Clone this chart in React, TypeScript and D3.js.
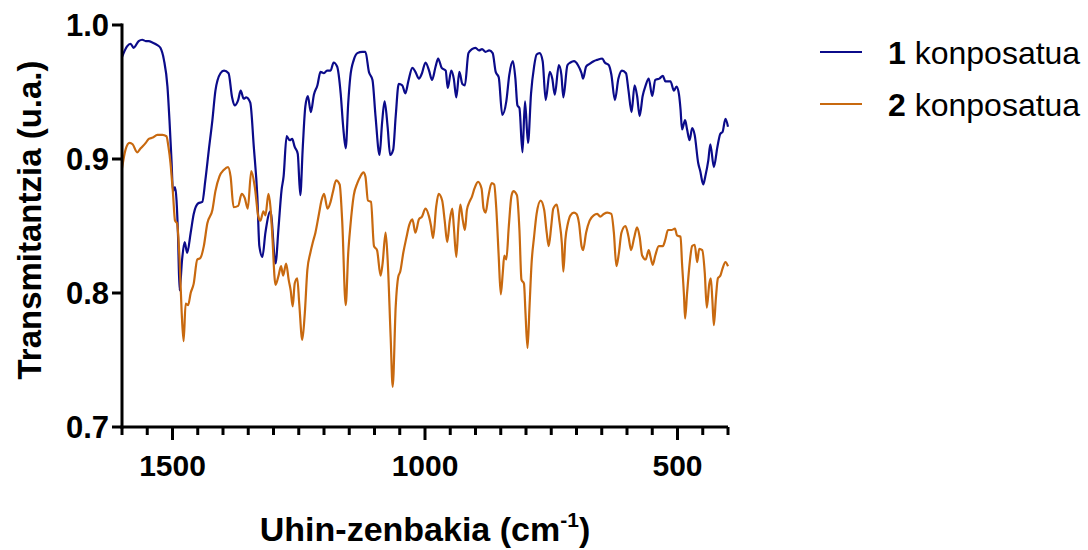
import React from "react";
import * as d3 from "d3";

const wavenumbers1 = [1600,1590,1583,1577,1567,1560,1553,1547,1540,1530,1524,1517,1510,1506,1502,1499,1495,1492,1489,1486,1481,1476,1471,1464,1458,1449,1441,1435,1428,1421,1415,1405,1398,1389,1382,1377,1370,1365,1359,1354,1346,1339,1332,1328,1322,1316,1306,1296,1290,1284,1280,1274,1268,1263,1258,1252,1247,1242,1237,1232,1226,1220,1213,1207,1200,1194,1187,1181,1174,1167,1162,1157,1152,1148,1141,1134,1124,1118,1111,1104,1098,1090,1085,1080,1074,1069,1063,1058,1052,1045,1039,1033,1025,1019,1012,1006,999,992,986,979,974,967,959,955,948,943,938,932,926,921,914,907,900,893,887,880,873,866,860,854,847,839,833,826,821,817,813,807,802,796,790,784,779,773,767,761,753,748,743,735,730,726,718,712,705,697,690,687,681,674,666,659,649,644,636,631,624,617,610,602,597,591,585,580,575,569,563,557,550,544,536,529,524,514,507,502,497,494,491,485,481,476,471,466,459,455,449,445,439,435,428,421,415,411,405,400];
const transmittance1 = [0.976,0.984,0.986,0.983,0.988,0.989,0.988,0.988,0.987,0.985,0.983,0.974,0.954,0.929,0.899,0.876,0.879,0.869,0.842,0.802,0.825,0.838,0.830,0.845,0.859,0.867,0.868,0.884,0.907,0.929,0.951,0.964,0.966,0.964,0.946,0.940,0.944,0.951,0.945,0.946,0.942,0.909,0.872,0.835,0.827,0.845,0.861,0.822,0.849,0.877,0.887,0.917,0.914,0.915,0.909,0.904,0.873,0.909,0.939,0.947,0.935,0.948,0.955,0.965,0.964,0.966,0.966,0.972,0.969,0.949,0.924,0.908,0.942,0.961,0.974,0.979,0.980,0.980,0.965,0.959,0.932,0.903,0.927,0.943,0.924,0.903,0.907,0.932,0.956,0.955,0.949,0.958,0.968,0.965,0.960,0.964,0.972,0.966,0.959,0.969,0.975,0.968,0.966,0.953,0.966,0.960,0.946,0.965,0.956,0.955,0.979,0.982,0.983,0.981,0.982,0.980,0.981,0.979,0.965,0.961,0.933,0.943,0.963,0.973,0.960,0.940,0.938,0.905,0.943,0.912,0.949,0.969,0.978,0.979,0.973,0.944,0.965,0.960,0.948,0.970,0.963,0.946,0.970,0.972,0.973,0.970,0.964,0.960,0.969,0.971,0.973,0.974,0.975,0.972,0.970,0.963,0.944,0.960,0.966,0.964,0.951,0.935,0.955,0.947,0.932,0.947,0.955,0.960,0.947,0.959,0.960,0.962,0.958,0.958,0.951,0.954,0.948,0.937,0.922,0.929,0.922,0.914,0.923,0.918,0.897,0.891,0.881,0.887,0.899,0.911,0.894,0.909,0.919,0.920,0.930,0.924];

const wavenumbers2 = [1600,1593,1585,1579,1570,1563,1553,1547,1539,1530,1520,1512,1508,1504,1499,1495,1491,1486,1482,1478,1474,1469,1464,1458,1451,1445,1438,1431,1421,1415,1407,1398,1390,1385,1379,1370,1363,1357,1351,1344,1337,1330,1326,1320,1316,1310,1306,1303,1296,1290,1285,1281,1275,1270,1266,1262,1258,1253,1249,1243,1238,1233,1227,1222,1217,1210,1205,1200,1193,1187,1182,1176,1169,1164,1157,1152,1148,1141,1134,1128,1122,1118,1113,1107,1101,1095,1088,1084,1078,1074,1068,1064,1058,1053,1049,1043,1037,1031,1025,1019,1012,1006,999,992,988,984,978,973,966,961,956,951,946,943,938,934,930,925,921,917,912,907,902,895,888,884,880,875,868,863,859,854,850,846,843,839,834,829,825,818,813,809,804,801,797,793,789,784,779,771,764,759,755,750,746,739,734,729,726,722,717,712,705,700,695,690,687,681,674,666,659,653,646,639,631,626,621,616,611,603,597,592,586,580,575,570,563,557,554,549,544,537,529,524,519,512,505,501,494,491,487,485,481,476,471,466,461,457,451,446,442,437,434,431,428,424,420,415,411,405,400];
const transmittance2 = [0.893,0.907,0.912,0.911,0.905,0.908,0.912,0.915,0.916,0.918,0.918,0.917,0.909,0.897,0.874,0.854,0.852,0.825,0.787,0.764,0.792,0.791,0.800,0.807,0.825,0.826,0.835,0.852,0.862,0.876,0.887,0.892,0.894,0.887,0.864,0.865,0.874,0.871,0.863,0.891,0.879,0.857,0.854,0.861,0.858,0.874,0.864,0.847,0.806,0.813,0.820,0.813,0.822,0.810,0.802,0.790,0.807,0.811,0.792,0.765,0.785,0.817,0.830,0.838,0.845,0.859,0.869,0.874,0.863,0.868,0.876,0.884,0.881,0.854,0.791,0.830,0.849,0.873,0.882,0.887,0.890,0.887,0.869,0.868,0.835,0.832,0.813,0.822,0.845,0.825,0.767,0.730,0.790,0.812,0.816,0.830,0.841,0.851,0.855,0.845,0.855,0.857,0.863,0.857,0.850,0.841,0.864,0.874,0.869,0.854,0.838,0.854,0.863,0.850,0.827,0.850,0.866,0.854,0.847,0.862,0.868,0.872,0.878,0.883,0.878,0.863,0.860,0.871,0.882,0.881,0.864,0.827,0.799,0.815,0.828,0.825,0.850,0.872,0.876,0.873,0.847,0.810,0.807,0.785,0.759,0.790,0.822,0.842,0.859,0.869,0.862,0.845,0.835,0.850,0.863,0.866,0.854,0.837,0.816,0.840,0.852,0.858,0.860,0.859,0.852,0.835,0.832,0.845,0.854,0.858,0.859,0.857,0.859,0.860,0.859,0.845,0.820,0.830,0.845,0.850,0.842,0.832,0.841,0.849,0.842,0.828,0.825,0.832,0.828,0.821,0.828,0.835,0.835,0.840,0.847,0.847,0.848,0.843,0.842,0.822,0.797,0.781,0.800,0.822,0.835,0.836,0.823,0.833,0.832,0.815,0.789,0.807,0.811,0.795,0.776,0.796,0.811,0.813,0.818,0.823,0.820];

const seriesNames = ["1", "2"];
const seriesSuffix = " konposatua";
const xMajorTicks = [1500, 1000, 500];
const yTicks = [0.7, 0.8, 0.9, 1.0];
const xDomain = [1600, 400];
const yDomain = [0.7, 1.0];

const COLORS = ["#0b0b8a", "#c8690f"];
const FONT = "'Liberation Sans', Arial, Helvetica, sans-serif";

export default function App() {
  const left = 122, right = 728, top = 25, bottom = 427;
  const x = d3.scaleLinear().domain(xDomain).range([left, right]);
  const y = d3.scaleLinear().domain(yDomain).range([bottom, top]);
  const minorTicks = d3.range(1600, 399, -50).filter((t) => !xMajorTicks.includes(t));

  const line = d3
    .line<[number, number]>()
    .x((d) => x(d[0]))
    .y((d) => y(d[1]))
    .curve(d3.curveMonotoneX);

  const s1 = wavenumbers1.map((w, i) => [w, transmittance1[i]] as [number, number]);
  const s2 = wavenumbers2.map((w, i) => [w, transmittance2[i]] as [number, number]);
  const series = [s1, s2];

  return (
    <svg
      width={1088}
      height={550}
      style={{ position: "absolute", left: 0, top: 0, background: "#fff" }}
      fontFamily={FONT}
    >
      {series.map((s, i) => (
        <path key={i} d={line(s) || ""} fill="none" stroke={COLORS[i]} strokeWidth={2.2} strokeLinejoin="round" />
      ))}

      {/* axes */}
      <line x1={left} x2={left} y1={top - 1.5} y2={bottom + 1.5} stroke="#000" strokeWidth={3} />
      <line x1={left - 1.5} x2={right} y1={bottom} y2={bottom} stroke="#000" strokeWidth={3} />

      {yTicks.map((t) => (
        <g key={t}>
          <line x1={left - 10} x2={left} y1={y(t)} y2={y(t)} stroke="#000" strokeWidth={3} />
          <text x={left - 13} y={y(t)} dy="0.36em" textAnchor="end" fontSize={31} fontWeight="bold">
            {t.toFixed(1)}
          </text>
        </g>
      ))}

      {minorTicks.map((t) => (
        <line key={t} x1={x(t)} x2={x(t)} y1={bottom} y2={bottom + 8} stroke="#000" strokeWidth={3} />
      ))}
      {xMajorTicks.map((t) => (
        <g key={t}>
          <line x1={x(t)} x2={x(t)} y1={bottom} y2={bottom + 13} stroke="#000" strokeWidth={3} />
          <text x={x(t)} y={bottom + 49} textAnchor="middle" fontSize={30} fontWeight="bold">
            {t}
          </text>
        </g>
      ))}

      <text x={425} y={541} textAnchor="middle" fontSize={34} fontWeight="bold">
        Uhin-zenbakia (cm
        <tspan dy={-14} fontSize={21}>-1</tspan>
        <tspan dy={14}>)</tspan>
      </text>

      <text
        transform={`translate(41, ${(top + bottom) / 2 - 6}) rotate(-90)`}
        textAnchor="middle"
        fontSize={33}
        fontWeight="bold"
      >
        Transmitantzia (u.a.)
      </text>

      {seriesNames.map((n, i) => (
        <g key={n}>
          <line x1={820} x2={862} y1={52 + i * 52} y2={52 + i * 52} stroke={COLORS[i]} strokeWidth={2} />
          <text x={888} y={52 + i * 52} dy="0.36em" fontSize={32}>
            <tspan fontWeight="bold">{n}</tspan>
            {seriesSuffix}
          </text>
        </g>
      ))}
    </svg>
  );
}
